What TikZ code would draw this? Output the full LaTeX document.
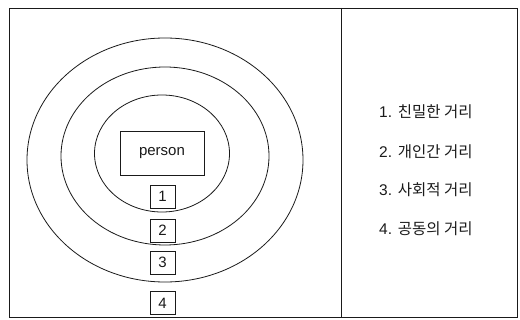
\documentclass[tikz,border=0pt]{standalone}
\usepackage{fontspec}
\setmainfont{Liberation Sans}
\newfontfamily\kofont{Noto Sans CJK KR}
\usetikzlibrary{positioning}
\definecolor{ink}{HTML}{1A1A1A}
\tikzset{
  frame/.style={draw=ink, line width=0.9pt},
  ring/.style={draw=ink, line width=0.8pt},
  base/.style={inner sep=0pt, align=center, text=ink},
  box/.style={base, draw=ink, line width=0.8pt, fill=white},
  numbox/.style={box, minimum width=25pt, minimum height=23pt, font=\fontsize{15}{17}\selectfont},
  lab/.style={base, anchor=west, font=\fontsize{15.5}{18}\selectfont},
}

\begin{document}
\begin{tikzpicture}[x=1pt, y=-1pt]
    \useasboundingbox (0,0) rectangle (520,320);
    \draw[frame] (9,8) rectangle (517,317);
    \draw[frame] (341,8) -- (341,317);
    % zones
    \draw[ring] (165,160) ellipse [x radius=138, y radius=122];
    \draw[ring] (165,156) ellipse [x radius=104, y radius=89];
    \draw[ring] (162,153.5) ellipse [x radius=67.5, y radius=58.5];
    \node[box, minimum width=84pt, minimum height=44pt, font=\fontsize{15}{17}\selectfont] (person) at (162,153) {person};
    \node[numbox] (n1) at (162.5,196.5) {1};
    \node[numbox] (n2) at (162.5,230.5) {2};
    \node[numbox] (n3) at (162.5,262.5) {3};
    \node[numbox] (n4) at (162.5,303) {4};
    % legend
    \node[lab] (l1) at (379,112) {1. {\kofont 친밀한 거리}};
    \node[lab] (l2) at (379,152) {2. {\kofont 개인간 거리}};
    \node[lab] (l3) at (379,190) {3. {\kofont 사회적 거리}};
    \node[lab] (l4) at (379,229) {4. {\kofont 공동의 거리}};
  \end{tikzpicture}
\end{document}
